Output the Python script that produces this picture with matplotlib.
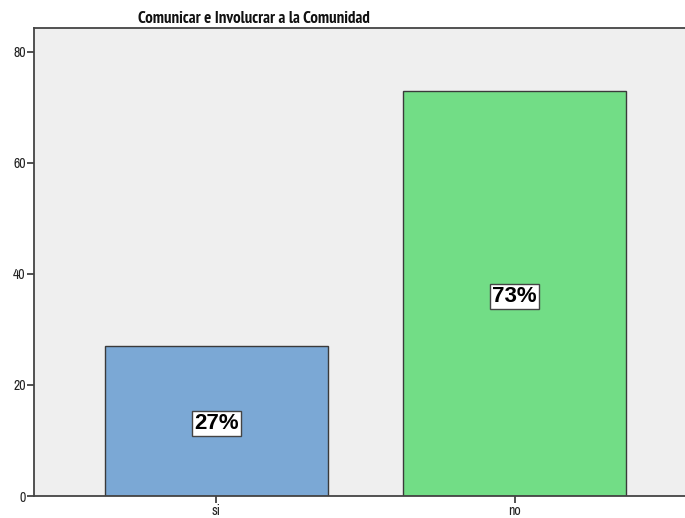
import matplotlib
matplotlib.use("Agg")
import matplotlib.pyplot as plt

categories = ["si", "no"]
values = [27.03, 72.97]
labels = ["27%", "73%"]
colors = ["#7BA8D5", "#72DD86"]
yticks = [0, 20, 40, 60, 80]
title = "Comunicar e Involucrar a la Comunidad"

W, H = 685, 518
fig = plt.figure(figsize=(W / 100, H / 100), dpi=100)
fig.patch.set_facecolor("white")
ax = fig.add_axes([34 / W, 1 - 496 / H, 1 - 34 / W + 0.001, (496 - 28) / H])
ax.set_facecolor("#EFEFEF")

x = list(range(len(categories)))
ax.bar(x, values, width=0.75, color=colors, edgecolor="#3A3A3A", linewidth=1.0, zorder=2)
ax.set_xlim(-0.612, 1.574)
ax.set_ylim(0, 84.3)

narrow = ["Archivo Narrow", "PT Sans Narrow", "DejaVu Sans"]
ax.set_xticks(x)
ax.set_xticklabels(categories, family=narrow, fontsize=10)
ax.set_yticks(yticks)
ax.set_yticklabels([str(v) for v in yticks], family=narrow, fontsize=10)
ax.tick_params(axis="both", length=5, width=1.2, color="#333333", labelcolor="#222222", pad=1)

for s in ["left", "top", "bottom"]:
    ax.spines[s].set_color("#444444")
    ax.spines[s].set_linewidth(1.3)
ax.spines["right"].set_visible(False)

for xi, v, lab in zip(x, values, labels):
    ax.text(xi, v / 2 - 0.5, lab, ha="center", va="center", fontsize=16, fontweight="bold",
            family=["Liberation Sans", "DejaVu Sans"], color="black", zorder=3,
            bbox=dict(boxstyle="square,pad=0.08", facecolor="white", edgecolor="#444444", linewidth=1.0))

fig.text(254 / W, 1 - 23 / H, title, ha="center", va="baseline", fontsize=12.2, fontweight="bold",
         family=["PT Sans Narrow", "Roboto Condensed", "DejaVu Sans"], color="#111111")

fig.savefig("out.png", dpi=100)
